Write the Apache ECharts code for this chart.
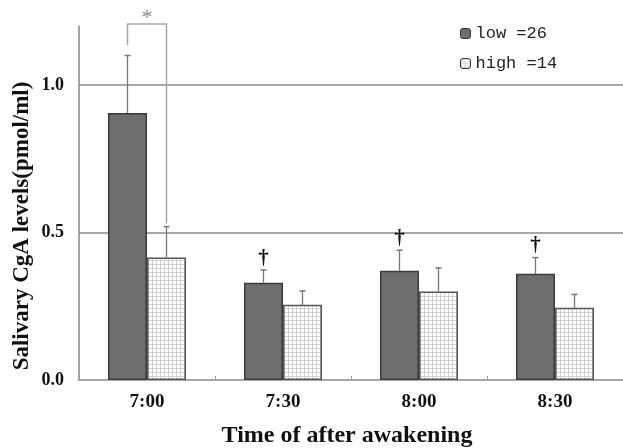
<!DOCTYPE html>
<html>
<head>
<meta charset="utf-8">
<script src="https://cdn.jsdelivr.net/npm/echarts@6/dist/echarts.min.js"></script>
<style>html,body{margin:0;padding:0;background:#fff}#c{width:623px;height:448px}</style>
</head>
<body>
<div id="c"></div>
<script>
var categories = ['7:00', '7:30', '8:00', '8:30'];
var seriesNames = ['low =26', 'high =14'];
var lowMeans = [0.905, 0.33, 0.37, 0.36];
var lowSD = [0.195, 0.043, 0.07, 0.055];
var highMeans = [0.415, 0.255, 0.30, 0.245];
var highSD = [0.105, 0.047, 0.08, 0.045];
var lowMarks = ['', '\u2020', '\u2020', '\u2020'];
var yTicks = [0, 0.5, 1.0];
var yMax = 1.2;

var chart = echarts.init(document.getElementById('c'), null, {renderer: 'canvas'});

// grid pattern for the "high" bars
var pc = document.createElement('canvas');
pc.width = 4; pc.height = 4;
var g = pc.getContext('2d');
g.fillStyle = '#ffffff'; g.fillRect(0, 0, 4, 4);
g.fillStyle = '#cfcfcf'; g.fillRect(0, 0, 4, 1); g.fillRect(0, 0, 1, 4);

var BW = 39;
var serif = '"Liberation Serif", "Times New Roman", serif';

function errRender(offset, marks) {
  return function (params, api) {
    var i = api.value(0), m = api.value(1), sd = api.value(2);
    var p0 = api.coord([i, m]);
    var p1 = api.coord([i, m + sd]);
    var x = p0[0] + offset;
    var children = [
      {type: 'line', shape: {x1: x, y1: p0[1], x2: x, y2: p1[1]}, style: {stroke: '#777', lineWidth: 1.3}},
      {type: 'line', shape: {x1: x - 3, y1: p1[1], x2: x + 3, y2: p1[1]}, style: {stroke: '#777', lineWidth: 1.5}}
    ];
    if (marks && marks[i]) {
      children.push({type: 'text', style: {text: marks[i], x: x, y: p1[1] - 1, align: 'center', verticalAlign: 'bottom',
        font: 'bold 21px ' + serif, fill: '#111'}});
    }
    return {type: 'group', children: children};
  };
}

var lowErrData = categories.map(function (c, i) { return [i, lowMeans[i], lowSD[i]]; });
var highErrData = categories.map(function (c, i) { return [i, highMeans[i], highSD[i]]; });

var option = {
  animation: false,
  backgroundColor: '#fff',
  grid: {left: 79, right: 0, top: 26, bottom: 68},
  legend: {
    orient: 'vertical', left: 455, top: 20, itemGap: 13, itemWidth: 10, itemHeight: 10,
    data: seriesNames,
    textStyle: {fontFamily: '"Liberation Mono", "DejaVu Sans Mono", monospace', fontSize: 17, color: '#222'},
    itemStyle: {borderColor: '#333', borderWidth: 1}
  },
  xAxis: {
    type: 'category', data: categories,
    axisLine: {lineStyle: {color: '#8a8a8a', width: 1.5}},
    axisTick: {show: true, inside: true, length: 4, lineStyle: {color: '#999'}},
    axisLabel: {fontFamily: serif, fontWeight: 'bold', fontSize: 19, color: '#111', margin: 13}
  },
  yAxis: {
    type: 'value', min: 0, max: yMax, interval: 0.5,
    axisLine: {show: true, lineStyle: {color: '#8a8a8a', width: 1.5}},
    axisTick: {show: false},
    axisLabel: {
      fontFamily: serif, fontWeight: 'bold', fontSize: 18, color: '#111', margin: 15,
      showMaxLabel: false,
      formatter: function (v) { return yTicks.indexOf(v) >= 0 ? v.toFixed(1) : ''; }
    },
    splitLine: {show: true, showMinLine: false, showMaxLine: false, lineStyle: {color: '#8a8a8a', width: 1.5}}
  },
  series: [
    {
      name: seriesNames[0], type: 'bar', data: lowMeans, barWidth: BW, barGap: '0%',
      itemStyle: {color: '#6e6e6e', borderColor: '#3a3a3a', borderWidth: 1.5}
    },
    {
      name: seriesNames[1], type: 'bar', data: highMeans, barWidth: BW, barGap: '0%',
      itemStyle: {color: {image: pc, repeat: 'repeat'}, borderColor: '#555', borderWidth: 1.5}
    },
    {
      type: 'custom', data: lowErrData, renderItem: errRender(-BW / 2, lowMarks), z: 5, clip: false,
      encode: {x: 0, y: [1, 2]}
    },
    {
      type: 'custom', data: highErrData, renderItem: errRender(BW / 2, null), z: 5, clip: false,
      encode: {x: 0, y: [1, 2]}
    },
    {
      type: 'custom', z: 6, clip: false,
      data: [[0, lowMeans[0] + lowSD[0] + 0.035, highMeans[0] + highSD[0], 1.207]],
      renderItem: function (params, api) {
        var i = api.value(0);
        var a = api.coord([i, api.value(1)]);
        var b = api.coord([i, api.value(2)]);
        var t = api.coord([i, api.value(3)]);
        var xl = a[0] - BW / 2, xr = a[0] + BW / 2;
        return {type: 'group', children: [
          {type: 'polyline', shape: {points: [[xl, a[1]], [xl, t[1]], [xr, t[1]], [xr, b[1] - 3]]},
            style: {stroke: '#a8a8a8', lineWidth: 1.5, fill: null}},
          {type: 'text', style: {text: '*', x: a[0], y: t[1] + 5, align: 'center', verticalAlign: 'bottom',
            font: '22px ' + serif, fill: '#888'}}
        ]};
      }
    }
  ],
  graphic: [
    {type: 'text', x: 347, y: 436, style: {text: 'Time of after awakening', font: 'bold 24px ' + serif, fill: '#111',
      align: 'center', verticalAlign: 'middle'}},
    {type: 'text', x: 22, y: 226, rotation: Math.PI / 2, style: {text: 'Salivary CgA levels(pmol/ml)',
      font: 'bold 23px ' + serif, fill: '#111', align: 'center', verticalAlign: 'middle'}}
  ]
};
chart.setOption(option);
</script>
</body>
</html>
